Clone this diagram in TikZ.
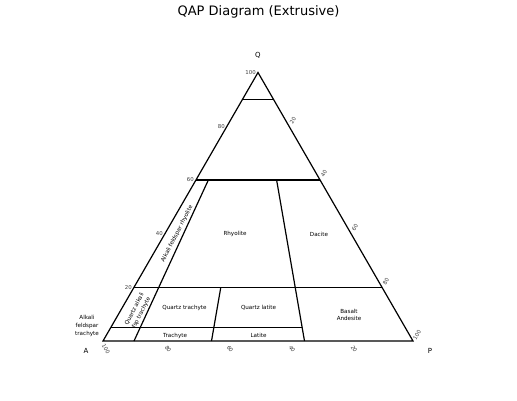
\documentclass[tikz,border=0pt]{standalone}
\usepackage{fontspec}
\setmainfont{DejaVu Sans}
\usetikzlibrary{calc,positioning}

\begin{document}
\begin{tikzpicture}[x=1pt, y=-1pt,
			fieldLine/.style={line width=1.2pt, line join=miter},
			fieldLabel/.style={font=\fontsize{5.6}{7.8}\selectfont, align=center, inner sep=0pt},
			tickLabel/.style={font=\fontsize{5.4}{6}\selectfont, color=black!75, inner sep=0pt},
			cornerLabel/.style={font=\fontsize{7}{8}\selectfont, inner sep=0pt}]
			
			\useasboundingbox (0,0) rectangle (517,400);
			
			\node[font=\fontsize{13}{15}\selectfont, anchor=base] (title) at (258.5,15) {QAP Diagram (Extrusive)};
			
			% corners of the triangle
			\coordinate (A) at (103,341);
			\coordinate (P) at (413,341);
			\coordinate (Q) at (258,72.5);
			
			\begin{scope}[every node/.style={cornerLabel}]
				\node (qLabel) at (258,55) {Q};
				\node (aLabel) at (86,351) {A};
				\node (pLabel) at (430,351) {P};
			\end{scope}
			
			% P/(A+P) ratios on the base
			\coordinate (b10) at ($(A)!0.1!(P)$);
			\coordinate (b35) at ($(A)!0.35!(P)$);
			\coordinate (b65) at ($(A)!0.65!(P)$);
			
			% Q levels
			\foreach \q/\name in {0.9/90,0.6/60,0.2/20,0.05/05} {
				\coordinate (l\name) at ($(A)!\q!(Q)$);
				\coordinate (r\name) at ($(P)!\q!(Q)$);
			}
			\coordinate (m05) at ($(b65)!0.05!(Q)$);
			
			\draw[fieldLine] (A) -- (P) -- (Q) -- cycle;
			\draw[fieldLine] (l90) -- (r90);
			\draw[fieldLine] (l60) -- (r60);
			\draw[fieldLine] (l20) -- (r20);
			\draw[fieldLine] (l05) -- (m05);
			\draw[fieldLine] (b10) -- ($(b10)!0.6!(Q)$);
			\draw[fieldLine] (b35) -- ($(b35)!0.2!(Q)$);
			\draw[fieldLine] (b65) -- ($(b65)!0.6!(Q)$);
			
			% tick labels
			\foreach \v in {20,40,...,100} {
				\node[tickLabel, anchor=east, xshift=-2pt] at ($(A)!\v/100!(Q)$) {\v};
				\node[tickLabel, xshift=4pt, yshift=6pt, rotate=60] at ($(Q)!\v/100!(P)$) {\v};
				\node[tickLabel, xshift=3pt, yshift=-8pt, rotate=-60] at ($(P)!\v/100!(A)$) {\v};
			}
			
			% rock names
			\begin{scope}[every node/.style={fieldLabel}]
				\node (rhyolite) at (235,234) {Rhyolite};
				\node (dacite) at (319,234) {Dacite};
				\node[rotate=63] (afRhyolite) at (177,234) {Alkali feldspar rhyolite};
				\node[rotate=63] (qafTrachyte) at (138,311) {Quartz alkali\\fsp trachyte};
				\node (qTrachyte) at (184.5,308) {Quartz trachyte};
				\node (qLatite) at (258.5,308) {Quartz latite};
				\node (trachyte) at (175,335.5) {Trachyte};
				\node (latite) at (258.5,335.5) {Latite};
				\node (basalt) at (349,315) {Basalt\\Andesite};
				\node (afTrachyte) at (87,326) {Alkali\\feldspar\\trachyte};
			\end{scope}
		\end{tikzpicture}
\end{document}
